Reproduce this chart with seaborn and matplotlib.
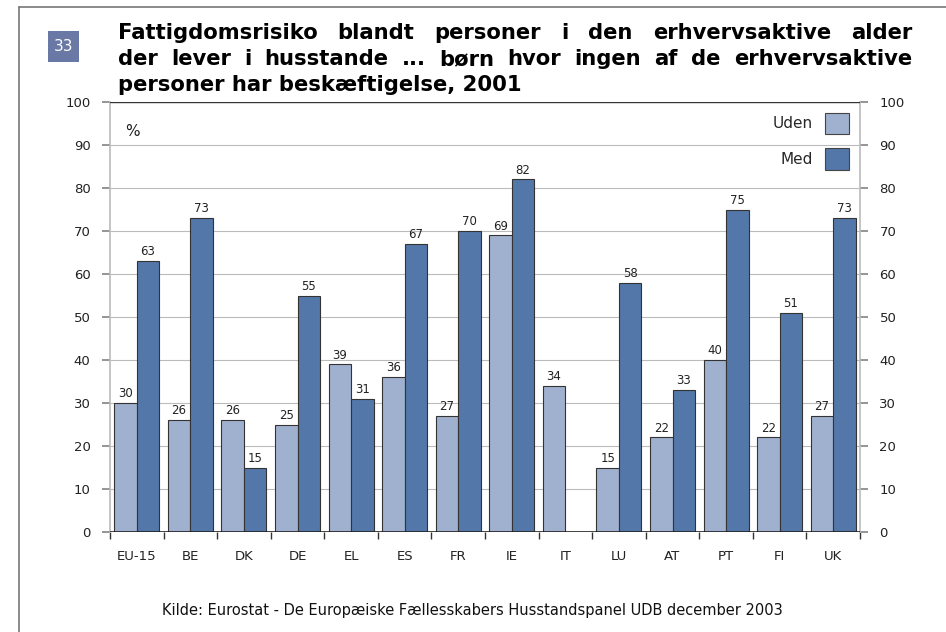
import numpy as np
import pandas as pd
import matplotlib.pyplot as plt
import seaborn as sns
from matplotlib.patches import Rectangle
from matplotlib.lines import Line2D

sns.set_theme(style="white")
plt.rcParams['font.family'] = ['DejaVu Sans']

# Data
countries = ["EU-15", "BE", "DK", "DE", "EL", "ES", "FR", "IE", "IT", "LU", "AT", "PT", "FI", "UK"]
uden = [30, 26, 26, 25, 39, 36, 27, 69, 34, 15, 22, 40, 22, 27]
med = [63, 73, 15, 55, 31, 67, 70, 82, np.nan, 58, 33, 75, 51, 73]
series = ["Uden", "Med"]
colors = {"Uden": "#A0B1CF", "Med": "#5377A8"}

title_lines = [
    "Fattigdomsrisiko blandt personer i den erhvervsaktive alder",
    "der lever i husstande ... børn hvor ingen af de erhvervsaktive",
    "personer har beskæftigelse, 2001",
]

df = pd.DataFrame({
    "land": countries * 2,
    "gruppe": ["Uden"] * len(countries) + ["Med"] * len(countries),
    "pct": uden + med,
})

W, H = 946, 632
fig = plt.figure(figsize=(W / 100, H / 100), dpi=100)
ax = fig.add_axes([110 / W, 1 - 532 / H, 750 / W, 430 / H])

sns.barplot(data=df, x="land", y="pct", hue="gruppe", hue_order=series, order=countries,
            palette=colors, saturation=1, width=0.84, edgecolor="#333333", linewidth=0.8,
            errorbar=None, ax=ax, zorder=3)

ax.set_ylim(0, 100)
ax.set_xlim(-0.5, len(countries) - 0.5)
ax.set_xlabel("")
ax.set_ylabel("")

# gridlines
for v in range(10, 100, 10):
    ax.axhline(v, color="#BBBBBB", lw=0.8, zorder=1)
ax.axhline(100, color="#333333", lw=1.0, zorder=4)
ax.axhline(0, color="#222222", lw=1.2, zorder=4)

for s in ["top", "bottom"]:
    ax.spines[s].set_visible(False)
for s in ["left", "right"]:
    ax.spines[s].set_color("#BBBBBB")
    ax.spines[s].set_linewidth(1.2)

ax.set_yticks(range(0, 101, 10))
ax.tick_params(axis="y", length=6, color="#888888", labelsize=9.5, labelcolor="#222222",
               left=True, right=True, labelleft=True, labelright=True, pad=8)
ax.set_xticks(range(len(countries)))
ax.set_xticklabels(countries, fontsize=9.5, color="#222222")
ax.tick_params(axis="x", which="major", length=0, pad=13)
ax.set_xticks(np.arange(-0.5, len(countries), 1), minor=True)
ax.tick_params(axis="x", which="minor", length=5, color="#333333", bottom=True)

for cont in ax.containers:
    ax.bar_label(cont, fmt="%.0f", padding=2, fontsize=8.5, color="#222222")

ax.text(0.02, 0.95, "%", transform=ax.transAxes, fontsize=11, color="#222222", va="top")

leg = ax.legend(loc="upper right", markerfirst=False, frameon=False, fontsize=11,
                handlelength=1.6, handleheight=1.8, labelspacing=0.9, borderaxespad=0.3)
for h in leg.legend_handles:
    h.set_edgecolor("#444444")

# title block, justified like the original (first two lines)
renderer = fig.canvas.get_renderer()
x0, x1 = 118, 912
baselines = [39, 65, 91]
tsize = 15.2
for i, line in enumerate(title_lines):
    words = line.split(" ")
    if i == len(title_lines) - 1:
        fig.text(x0 / W, 1 - baselines[i] / H, line, fontsize=tsize, fontweight="bold",
                 va="baseline", ha="left", color="black")
        continue
    texts = [fig.text(0, 1 - baselines[i] / H, w, fontsize=tsize, fontweight="bold",
                      va="baseline", ha="left", color="black") for w in words]
    widths = [t.get_window_extent(renderer).width for t in texts]
    gap = (x1 - x0 - sum(widths)) / (len(words) - 1)
    x = x0
    for t, wd in zip(texts, widths):
        t.set_x(x / W)
        x += wd + gap

fig.patches.append(Rectangle((48 / W, 1 - 62 / H), 31 / W, 31 / H, transform=fig.transFigure,
                             facecolor="#6A78A5", edgecolor="none"))
fig.text(63.5 / W, 1 - 46.5 / H, "33", color="white", fontsize=11, ha="center", va="center")

fig.lines.append(Line2D([19 / W, 19 / W], [0, 1 - 7 / H], transform=fig.transFigure, color="#777777", lw=1.2))
fig.lines.append(Line2D([19 / W, 1], [1 - 7 / H, 1 - 7 / H], transform=fig.transFigure, color="#777777", lw=1.2))

fig.text(472 / W, 1 - 610 / H, "Kilde: Eurostat - De Europæiske Fællesskabers Husstandspanel UDB december 2003",
         fontsize=10.5, ha="center", va="center", color="#111111")

fig.savefig("out.png", dpi=100)
